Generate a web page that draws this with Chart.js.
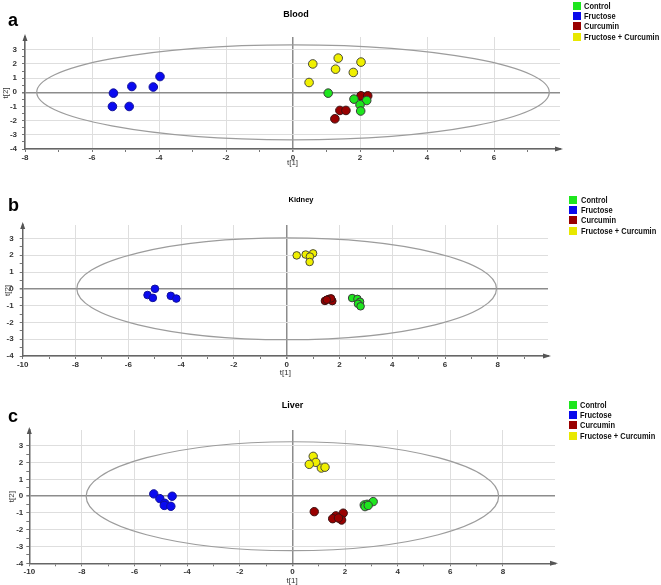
<!DOCTYPE html>
<html>
<head>
<meta charset="utf-8">
<script src="https://cdn.jsdelivr.net/npm/chart.js@4.4.1/dist/chart.umd.min.js"></script>
<style>
body { margin: 0; background: #fff; }
#page { position: relative; width: 661px; height: 585px; overflow: hidden; font-family: "Liberation Sans", Arial, sans-serif; }
canvas { position: absolute; left: 0; }
.letter { position: absolute; font-weight: bold; font-size: 18px; line-height: 18px; color: #000; }
.ptitle { position: absolute; font-weight: bold; color: #000; transform: translateX(-50%); white-space: nowrap; }
.sq { position: absolute; width: 8px; height: 8px; }
.lt { position: absolute; font-family: "Liberation Sans", Arial, sans-serif; font-weight: bold; font-size: 9.4px; line-height: 8px; color: #111; white-space: nowrap; transform: scaleX(0.8); transform-origin: 0 50%; }
</style>
</head>
<body>
<div id="page"></div>
<script>
// groups and panels
var groups = ['Control', 'Fructose', 'Curcumin', 'Fructose + Curcumin'];
var tissues = ['Blood', 'Kidney', 'Liver'];
var letters = ['a', 'b', 'c'];

// score values [t1, t2]
var bloodControl = [[1.05, -0.06], [1.82, -0.48], [2.2, -0.58], [2.0, -0.88], [2.02, -1.32]];
var bloodFructose = [[-3.97, 1.11], [-4.81, 0.41], [-4.17, 0.37], [-5.36, -0.06], [-5.39, -1.0], [-4.89, -1.0]];
var bloodCurcumin = [[2.03, -0.25], [2.23, -0.25], [1.4, -1.28], [1.58, -1.28], [1.25, -1.87]];
var bloodFrucCurc = [[0.59, 2.0], [1.35, 2.41], [2.03, 2.13], [1.27, 1.63], [1.8, 1.4], [0.48, 0.69]];

var kidneyControl = [[2.48, -0.55], [2.68, -0.6], [2.78, -0.77], [2.7, -0.89], [2.8, -1.04]];
var kidneyFructose = [[-4.99, 0.0], [-5.27, -0.37], [-5.07, -0.54], [-4.39, -0.42], [-4.18, -0.58]];
var kidneyCurcumin = [[1.45, -0.72], [1.6, -0.6], [1.73, -0.73], [1.68, -0.57], [1.52, -0.65]];
var kidneyFrucCurc = [[0.38, 1.99], [0.72, 2.04], [1.0, 2.11], [0.88, 1.92], [0.87, 1.6]];

var liverControl = [[2.73, -0.52], [2.84, -0.48], [3.07, -0.32], [2.76, -0.62], [2.88, -0.55]];
var liverFructose = [[-5.27, 0.14], [-5.04, -0.14], [-4.85, -0.42], [-4.87, -0.55], [-4.62, -0.6], [-4.57, 0.0]];
var liverCurcumin = [[0.83, -0.92], [1.93, -1.01], [1.65, -1.17], [1.53, -1.34], [1.87, -1.42], [1.75, -1.3]];
var liverFrucCurc = [[0.79, 2.38], [0.89, 2.02], [0.64, 1.9], [1.1, 1.68], [1.24, 1.73]];

var series = [
	[bloodControl, bloodFructose, bloodCurcumin, bloodFrucCurc],
	[kidneyControl, kidneyFructose, kidneyCurcumin, kidneyFrucCurc],
	[liverControl, liverFructose, liverCurcumin, liverFrucCurc]
];

// axis ranges and Hotelling T2 ellipse half-axes
var xMin = [-8, -10, -10];
var xMax = [7.97, 9.9, 9.98];
var yMin = [-4, -4, -4];
var yMax = [3.9, 3.8, 3.95];
var ellipseA = [7.65, 7.95, 7.84];
var ellipseB = [3.35, 3.03, 3.25];

// styles
var fillColors = ['#1ee61e', '#0a0af0', '#990000', '#f0f000'];
var lineColors = ['#3a3a3a', '#10109a', '#3a1010', '#4a4a3a'];
var legendColors = ['#1ee61e', '#0a0aeb', '#990000', '#e8e800'];

// page layout of each panel
var layout = [
	{ ctop: 0, h: 172, left: 25, right: 560, top: 37, bottom: 149, xh: 18, ytp: 2, ypad: 5, r: 4.3,
	  letter: [8, 26], title: [296, 17.3, 9], legend: [573, 584, 2] },
	{ ctop: 180, h: 200, left: 22.7, right: 548, top: 225, bottom: 356, xh: 21, ytp: 4, ypad: 6, r: 3.8,
	  letter: [8, 211], title: [301, 202.5, 7.5], legend: [569, 581, 196] },
	{ ctop: 378, h: 207, left: 29.3, right: 555, top: 430, bottom: 563.3, xh: 21.7, ytp: 8, ypad: 3, r: 4.2,
	  letter: [8, 422.5], title: [292.5, 409, 9], legend: [569, 580, 401] }
];

Chart.defaults.font.family = '"Liberation Sans", Arial, sans-serif';

var hotelling = {
	id: 'hotelling',
	beforeDatasetsDraw: function(chart) {
		var i = chart.options.panel;
		var x = chart.scales.x, y = chart.scales.y, ctx = chart.ctx;
		var cx = x.getPixelForValue(0), cy = y.getPixelForValue(0);
		var rx = x.getPixelForValue(ellipseA[i]) - cx;
		var ry = cy - y.getPixelForValue(ellipseB[i]);
		ctx.save();
		ctx.beginPath();
		ctx.ellipse(cx, cy, rx, ry, 0, 0, Math.PI * 2);
		ctx.strokeStyle = '#9c9c9c';
		ctx.lineWidth = 1.2;
		ctx.stroke();
		ctx.restore();
	}
};

var arrows = {
	id: 'arrows',
	afterDraw: function(chart) {
		var a = chart.chartArea, ctx = chart.ctx;
		ctx.save();
		ctx.fillStyle = '#555';
		ctx.beginPath();
		ctx.moveTo(a.left, a.top - 3);
		ctx.lineTo(a.left - 2.5, a.top + 4);
		ctx.lineTo(a.left + 2.5, a.top + 4);
		ctx.closePath();
		ctx.fill();
		ctx.beginPath();
		ctx.moveTo(a.right + 3, a.bottom);
		ctx.lineTo(a.right - 5, a.bottom - 2.5);
		ctx.lineTo(a.right - 5, a.bottom + 2.5);
		ctx.closePath();
		ctx.fill();
		ctx.restore();
	}
};

var page = document.getElementById('page');

function addDiv(cls, css, text) {
	var d = document.createElement('div');
	d.className = cls;
	d.style.cssText = css;
	if (text !== undefined) d.textContent = text;
	page.appendChild(d);
	return d;
}

function makePanel(i) {
	var p = layout[i];
	var canvas = document.createElement('canvas');
	canvas.width = 661;
	canvas.height = p.h;
	canvas.style.top = p.ctop + 'px';
	page.appendChild(canvas);

	var padBottom = p.h - (p.bottom - p.ctop) - p.xh;

	new Chart(canvas, {
		type: 'scatter',
		data: {
			datasets: groups.map(function(g, k) {
				return {
					label: g,
					data: series[i][k].map(function(d) { return { x: d[0], y: d[1] }; }),
					backgroundColor: fillColors[k],
					borderColor: lineColors[k],
					borderWidth: 1,
					pointRadius: p.r,
					pointHoverRadius: p.r
				};
			})
		},
		options: {
			panel: i,
			animation: false,
			responsive: false,
			events: [],
			layout: { padding: { left: 0, top: p.top - p.ctop, right: 661 - p.right, bottom: padBottom } },
			plugins: { legend: { display: false }, tooltip: { enabled: false } },
			scales: {
				x: {
					type: 'linear',
					min: xMin[i],
					max: xMax[i],
					afterBuildTicks: function(s) {
						s.ticks = s.ticks.filter(function(t) { return Number.isInteger(t.value); });
					},
					afterFit: function(s) { s.height = p.xh; },
					ticks: {
						stepSize: 1, autoSkip: false, maxRotation: 0, padding: 1,
						color: '#333', font: { size: 8, weight: 'bold' },
						callback: function(v) { return v % 2 === 0 ? String(v) : ''; }
					},
					grid: {
						color: function(c) {
							var v = c.tick ? c.tick.value : null;
							if (v === 0) return '#8c8c8c';
							return v % 2 === 0 ? '#dedede' : 'rgba(0,0,0,0)';
						},
						lineWidth: function(c) { return c.tick && c.tick.value === 0 ? 1.5 : 1; },
						tickColor: '#777',
						tickLength: 3
					},
					border: { color: '#666', width: 1.5 },
					title: { display: true, text: 't[1]', color: '#333', font: { size: 8, lineHeight: 1 }, padding: { top: 0, bottom: 0 } }
				},
				y: {
					type: 'linear',
					min: yMin[i],
					max: yMax[i],
					afterBuildTicks: function(s) {
						s.ticks = s.ticks.filter(function(t) { return Number.isInteger(t.value * 2); });
					},
					afterFit: function(s) { s.width = p.left; },
					ticks: {
						stepSize: 0.5, autoSkip: false, padding: p.ypad,
						color: '#333', font: { size: 8, weight: 'bold' },
						callback: function(v) { return Number.isInteger(v) ? String(v) : ''; }
					},
					grid: {
						color: function(c) {
							var v = c.tick ? c.tick.value : null;
							if (v === 0) return '#8c8c8c';
							return Number.isInteger(v) ? '#dedede' : 'rgba(0,0,0,0)';
						},
						lineWidth: function(c) { return c.tick && c.tick.value === 0 ? 1.5 : 1; },
						tickColor: '#777',
						tickLength: 3
					},
					border: { color: '#666', width: 1.5 },
					title: { display: true, text: 't[2]', color: '#333', font: { size: 8, lineHeight: 1 }, padding: { top: p.ytp, bottom: 0 } }
				}
			}
		},
		plugins: [hotelling, arrows]
	});

	// panel letter and tissue title
	addDiv('letter', 'left:' + p.letter[0] + 'px;top:' + (p.letter[1] - 15.3) + 'px;', letters[i]);
	var fs = p.title[2];
	addDiv('ptitle', 'left:' + p.title[0] + 'px;top:' + (p.title[1] - 0.85 * fs) + 'px;font-size:' + fs + 'px;line-height:' + fs + 'px;', tissues[i]);

	// legend
	groups.forEach(function(g, k) {
		var top = p.legend[2] + k * 10.2;
		addDiv('sq', 'left:' + p.legend[0] + 'px;top:' + top + 'px;background:' + legendColors[k] + ';');
		addDiv('lt', 'left:' + p.legend[1] + 'px;top:' + top + 'px;', g);
	});
}

for (var i = 0; i < 3; i++) makePanel(i);
</script>
</body>
</html>
